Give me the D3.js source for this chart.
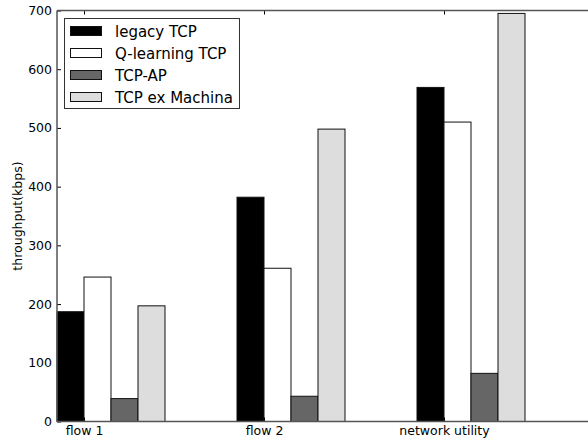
<!DOCTYPE html>
<html>
<head>
<meta charset="utf-8">
<script src="https://cdn.jsdelivr.net/npm/d3@7"></script>
<style>
  html, body { margin: 0; padding: 0; background: #fff; }
  svg { display: block; font-family: "DejaVu Sans", sans-serif; }
</style>
</head>
<body>
<svg id="chart" width="588" height="442"></svg>
<script>
// Throughput per scenario for each congestion-control scheme
const categories = ["flow 1", "flow 2", "network utility"];
const seriesNames = ["legacy TCP", "Q-learning TCP", "TCP-AP", "TCP ex Machina"];
const legacyTCP = [187, 382, 569];
const qLearningTCP = [246, 261, 510];
const tcpAP = [39, 43, 82];
const tcpExMachina = [197, 498, 695];
const yTicks = [0, 100, 200, 300, 400, 500, 600, 700];

const seriesValues = [legacyTCP, qLearningTCP, tcpAP, tcpExMachina];
const fills = ["#000000", "#ffffff", "#666666", "#dddddd"];

const svg = d3.select("#chart");
const W = 588;
const plotLeft = 57, plotTop = 10.5, plotBottom = 421.5;
const barW = 0.15; // bar width in category units
const FONT = "'DejaVu Sans', sans-serif";

const x = d3.scaleLinear().domain([0, 3]).range([plotLeft, plotLeft + 540]);
const y = d3.scaleLinear().domain([0, 700]).range([plotBottom, plotTop]);

const plot = svg.append("g");

// bars
seriesValues.forEach((vals, s) => {
  plot.selectAll(null)
    .data(vals.map((v, g) => ({ v, g })))
    .enter().append("rect")
    .attr("x", d => x(d.g + s * barW))
    .attr("y", d => y(d.v))
    .attr("width", x(barW) - x(0))
    .attr("height", d => y(0) - y(d.v))
    .attr("fill", fills[s])
    .attr("stroke", "#111")
    .attr("stroke-width", 1);
});

// axes with inward ticks
const spine = "#555";
const yAxis = d3.axisLeft(y).tickValues(yTicks).tickSizeInner(-4).tickSizeOuter(0).tickPadding(5);
const gy = svg.append("g").attr("transform", `translate(${plotLeft},0)`).call(yAxis)
  .attr("font-family", FONT).attr("font-size", "12.5px");
gy.select(".domain").remove();
gy.selectAll(".tick line").attr("stroke", "#000");
gy.selectAll("text").attr("fill", "#000");

const xTickVals = categories.map((c, i) => i + barW);
const xAxisB = d3.axisBottom(x).tickValues(xTickVals)
  .tickFormat((d, i) => categories[i]).tickSizeInner(-4).tickSizeOuter(0).tickPadding(5);
const gx = svg.append("g").attr("transform", `translate(0,${plotBottom})`).call(xAxisB)
  .attr("font-family", FONT).attr("font-size", "12.5px");
gx.select(".domain").remove();
gx.selectAll(".tick line").attr("stroke", "#000");
gx.selectAll("text").attr("fill", "#000");

const xAxisT = d3.axisTop(x).tickValues(xTickVals).tickFormat("").tickSizeInner(-4).tickSizeOuter(0);
const gxt = svg.append("g").attr("transform", `translate(0,${plotTop})`).call(xAxisT);
gxt.select(".domain").remove();
gxt.selectAll(".tick line").attr("stroke", "#000");

// spines
svg.append("line").attr("x1", plotLeft).attr("x2", plotLeft).attr("y1", plotTop).attr("y2", plotBottom)
  .attr("stroke", spine).attr("stroke-width", 1.5);
svg.append("line").attr("x1", plotLeft).attr("x2", W).attr("y1", plotTop).attr("y2", plotTop)
  .attr("stroke", spine).attr("stroke-width", 1.5);
svg.append("line").attr("x1", plotLeft).attr("x2", W).attr("y1", plotBottom).attr("y2", plotBottom)
  .attr("stroke", spine).attr("stroke-width", 1.5);

// y label
svg.append("text")
  .attr("transform", `translate(22,${(plotTop + plotBottom) / 2}) rotate(-90)`)
  .attr("text-anchor", "middle")
  .attr("font-size", "12.5px")
  .text("throughput(kbps)");

// legend
const lg = svg.append("g");
lg.append("rect").attr("x", 64.5).attr("y", 18.5).attr("width", 175).attr("height", 90)
  .attr("fill", "#fff").attr("stroke", "#333").attr("stroke-width", 1);
seriesNames.forEach((name, i) => {
  const cy = 31 + i * 22;
  lg.append("rect").attr("x", 70.5).attr("y", cy - 4.5).attr("width", 31).attr("height", 9)
    .attr("fill", fills[i]).attr("stroke", "#111").attr("stroke-width", 1);
  lg.append("text").attr("x", 115).attr("y", cy + 5.5)
    .attr("font-size", "15px").text(name);
});
</script>
</body>
</html>
